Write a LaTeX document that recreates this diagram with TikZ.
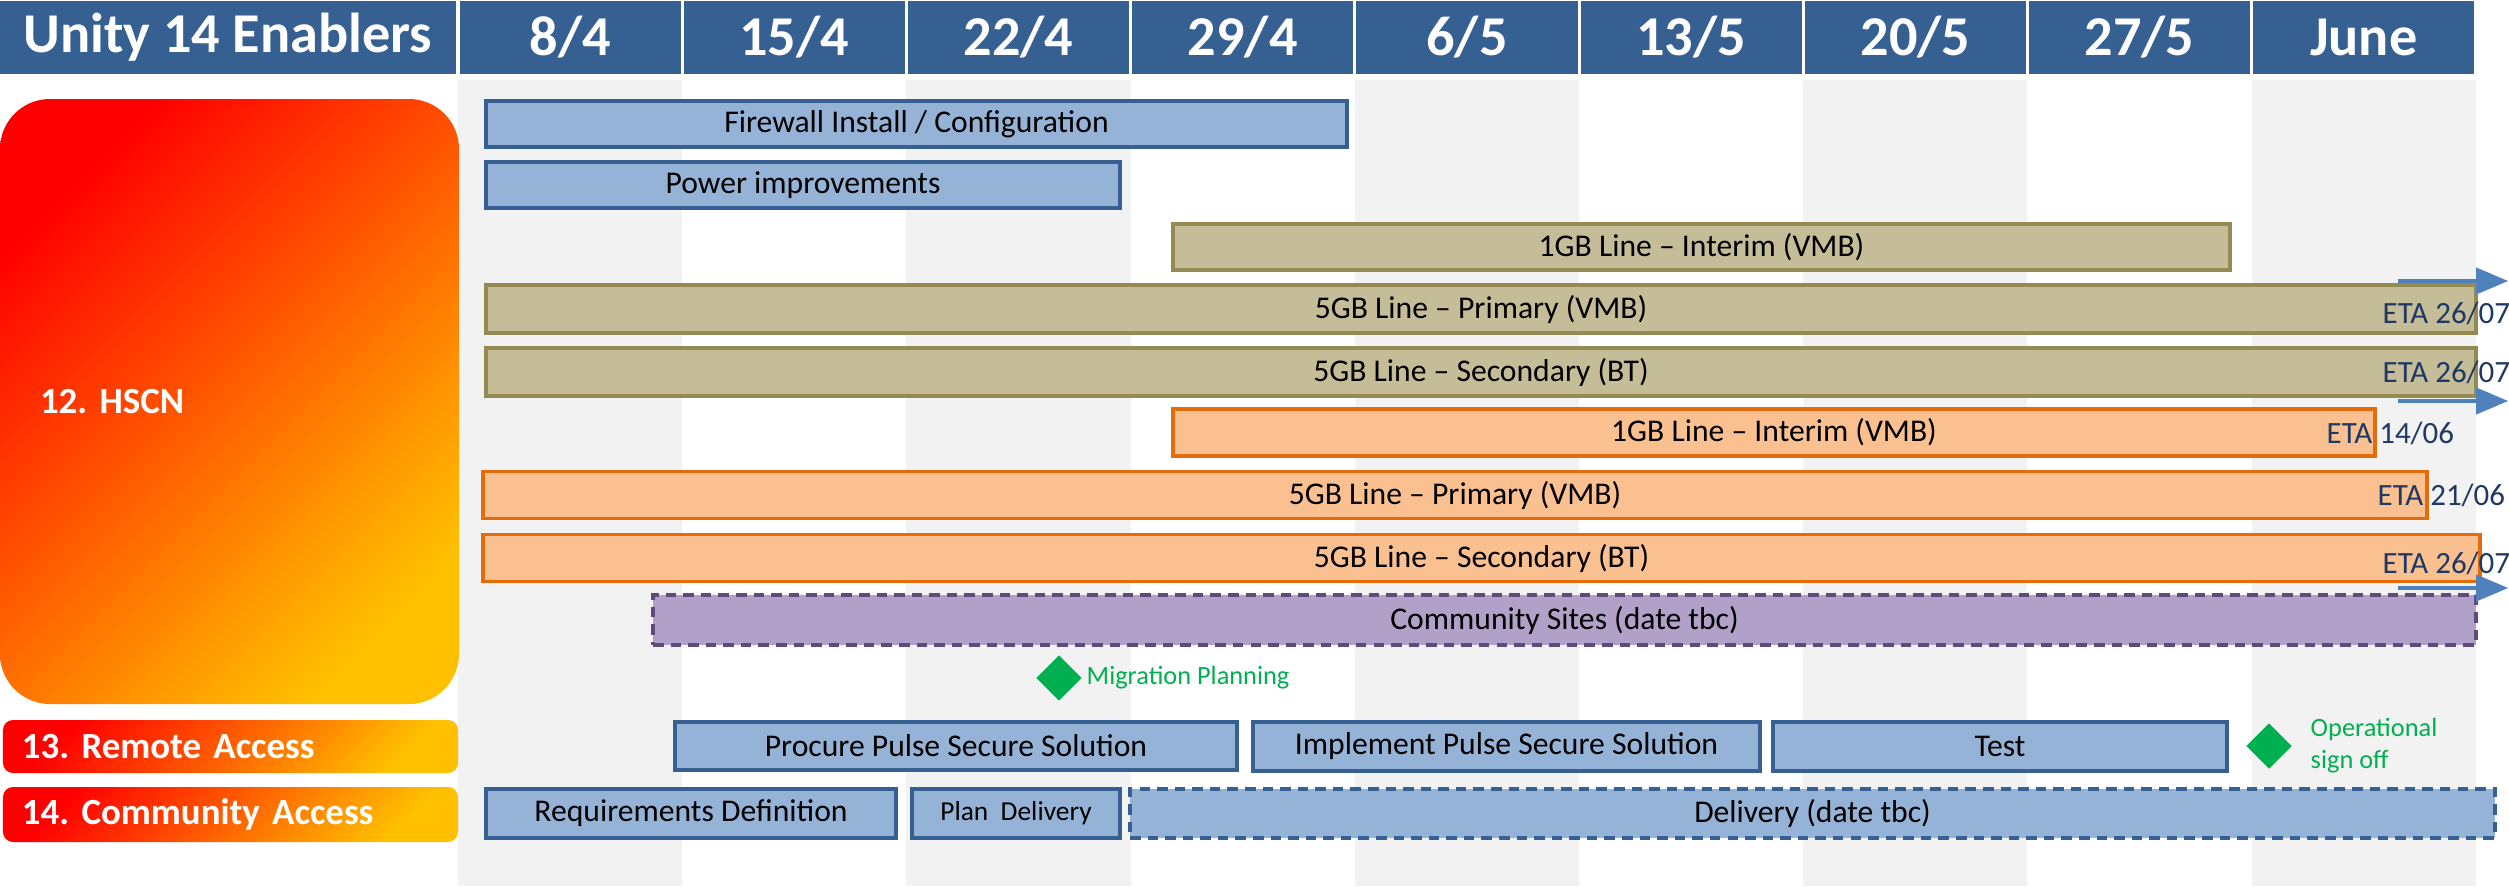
\documentclass[tikz,border=0pt]{standalone}
\usepackage{fontspec}
\setmainfont{Carlito}
\usepackage{tikz}
\usetikzlibrary{shapes.geometric,arrows}
\frenchspacing
\definecolor{hdrblue}{RGB}{54,96,146}
\definecolor{stripe}{RGB}{242,242,242}
\definecolor{barblue}{RGB}{149,179,215}
\definecolor{lineblue}{RGB}{54,96,146}
\definecolor{barkhaki}{RGB}{196,189,151}
\definecolor{linekhaki}{RGB}{148,138,84}
\definecolor{barorange}{RGB}{250,192,144}
\definecolor{lineorange}{RGB}{228,108,10}
\definecolor{barpurple}{RGB}{177,160,199}
\definecolor{linepurple}{RGB}{96,74,123}
\definecolor{msgreen}{RGB}{0,176,80}
\definecolor{etablue}{RGB}{31,56,100}
\definecolor{arrblue}{RGB}{79,129,189}
\definecolor{gradred}{RGB}{255,0,0}
\definecolor{gradmid}{RGB}{255,110,0}
\definecolor{gradyel}{RGB}{255,192,0}
\tikzstyle{datecell} = [rectangle, fill=hdrblue, text=white, minimum height=0.72cm, inner sep=0pt, font=\fontsize{16}{19}\selectfont\bfseries]
\tikzstyle{task} = [rectangle, line width=0.9pt, inner sep=0pt, minimum height=0.47cm, text centered, font=\fontsize{9}{11}\selectfont]
\tikzstyle{bluebar} = [task, fill=barblue, draw=lineblue]
\tikzstyle{khakibar} = [task, fill=barkhaki, draw=linekhaki]
\tikzstyle{orangebar} = [task, fill=barorange, draw=lineorange]
\tikzstyle{tbcbar} = [task, line width=1.1pt, dash pattern=on 3pt off 2pt]
\tikzstyle{stream} = [rectangle, rounded corners=0.1cm, top color=gradred, middle color=gradmid, bottom color=gradyel, shading angle=45, text=white, align=left, inner sep=0pt, font=\fontsize{10.5}{12}\selectfont\bfseries]
\tikzstyle{eta} = [anchor=west, inner sep=0pt, text=etablue, font=\fontsize{8.8}{10}\selectfont]
\tikzstyle{milestone} = [diamond, fill=msgreen, inner sep=0pt, minimum width=0.46cm, minimum height=0.46cm]
\tikzstyle{mstext} = [anchor=west, inner sep=0pt, text=msgreen, align=left, font=\fontsize{7.5}{9.1}\selectfont]
\tikzstyle{etaarrow} = [draw=arrblue, line width=1.1pt, -triangle 45]

\begin{document}
\begin{tikzpicture}
        \useasboundingbox (0,0) rectangle (25.09,-8.86);
        \foreach \i in {0,2,4,6,8}
            \fill [stripe] ({4.58+2.242*\i},-0.80) rectangle ({6.822+2.242*\i},-8.86);
        \node (title) [datecell, minimum width=4.555cm] at (2.2775,-0.375) {Unity 14 Enablers};
        \foreach \lab [count=\i from 0] in {{8/4},{15/4},{22/4},{29/4},{6/5},{13/5},{20/5},{27/5},{June}}
            \node (d\i) [datecell, minimum width=2.212cm] at ({5.701+2.242*\i},-0.375) {\lab};
        \node (hscn) [stream, rounded corners=0.5cm, minimum width=4.59cm, minimum height=6.05cm, text width=3.79cm] at (2.295,-4.015) {12. HSCN};
        \node (remote) [stream, minimum width=4.55cm, minimum height=0.53cm, text width=4.17cm] at (2.305,-7.465) {13. Remote Access};
        \node (commacc) [stream, minimum width=4.55cm, minimum height=0.55cm, text width=4.17cm] at (2.305,-8.145) {14. Community Access};
        \node (fw) [bluebar, minimum width=8.61cm, minimum height=0.46cm] at (9.165,-1.24) {Firewall Install / Configuration};
        \node (pwr) [bluebar, minimum width=6.34cm, minimum height=0.46cm] at (8.03,-1.85) {Power improvements};
        \node (kint) [khakibar, minimum width=10.57cm, minimum height=0.46cm] at (17.015,-2.47) {1GB Line – Interim (VMB)};
        \node (kpri) [khakibar, minimum width=19.90cm, minimum height=0.48cm] at (14.81,-3.09) {5GB Line – Primary (VMB)};
        \node (ksec) [khakibar, minimum width=19.90cm, minimum height=0.48cm] at (14.81,-3.72) {5GB Line – Secondary (BT)};
        \node (oint) [orangebar, minimum width=12.02cm] at (17.74,-4.325) {1GB Line – Interim (VMB)};
        \node (opri) [orangebar, minimum width=19.44cm] at (14.55,-4.95) {5GB Line – Primary (VMB)};
        \node (osec) [orangebar, minimum width=19.97cm] at (14.815,-5.58) {5GB Line – Secondary (BT)};
        \node (comm) [tbcbar, fill=barpurple, draw=linepurple, minimum width=18.23cm, minimum height=0.50cm] at (15.645,-6.20) {Community Sites (date tbc)};
        \node (eta1) [eta] at (23.82,-3.13) {ETA 26/07};
        \node (eta2) [eta] at (23.82,-3.72) {ETA 26/07};
        \node (eta3) [eta] at (23.26,-4.33) {ETA 14/06};
        \node (eta4) [eta] at (23.77,-4.95) {ETA 21/06};
        \node (eta5) [eta] at (23.82,-5.63) {ETA 26/07};
        \coordinate (a1s) at (23.98,-2.81);
        \coordinate (a1e) at (25.08,-2.81);
        \coordinate (a2s) at (23.98,-4.01);
        \coordinate (a2e) at (25.08,-4.01);
        \coordinate (a3s) at (23.98,-5.88);
        \coordinate (a3e) at (25.08,-5.88);
        \draw [etaarrow] (a1s) -- (a1e);
        \draw [etaarrow] (a2s) -- (a2e);
        \draw [etaarrow] (a3s) -- (a3e);
        \node (mig) [milestone] at (10.59,-6.78) {};
        \node (migtext) [mstext] at (10.86,-6.78) {Migration Planning};
        \node (procure) [bluebar, minimum width=5.62cm, minimum height=0.48cm] at (9.56,-7.46) {Procure Pulse Secure Solution};
        \node (implement) [bluebar, minimum width=5.07cm, minimum height=0.49cm] at (15.065,-7.465) {Implement Pulse Secure Solution};
        \node (test) [bluebar, minimum width=4.54cm, minimum height=0.49cm] at (20.0,-7.465) {Test};
        \node (signoff) [milestone] at (22.69,-7.46) {};
        \node (signtext) [mstext] at (23.10,-7.46) {Operational\\sign off};
        \node (req) [bluebar, minimum width=4.10cm, minimum height=0.49cm] at (6.91,-8.135) {Requirements Definition};
        \node (plan) [bluebar, minimum width=2.08cm, minimum height=0.49cm, font=\fontsize{7.8}{9}\selectfont] at (10.16,-8.135) {Plan\ \ Delivery};
        \node (deliv) [tbcbar, fill=barblue, draw=lineblue, minimum width=13.65cm, minimum height=0.49cm] at (18.125,-8.135) {Delivery (date tbc)};
\end{tikzpicture}
\end{document}
